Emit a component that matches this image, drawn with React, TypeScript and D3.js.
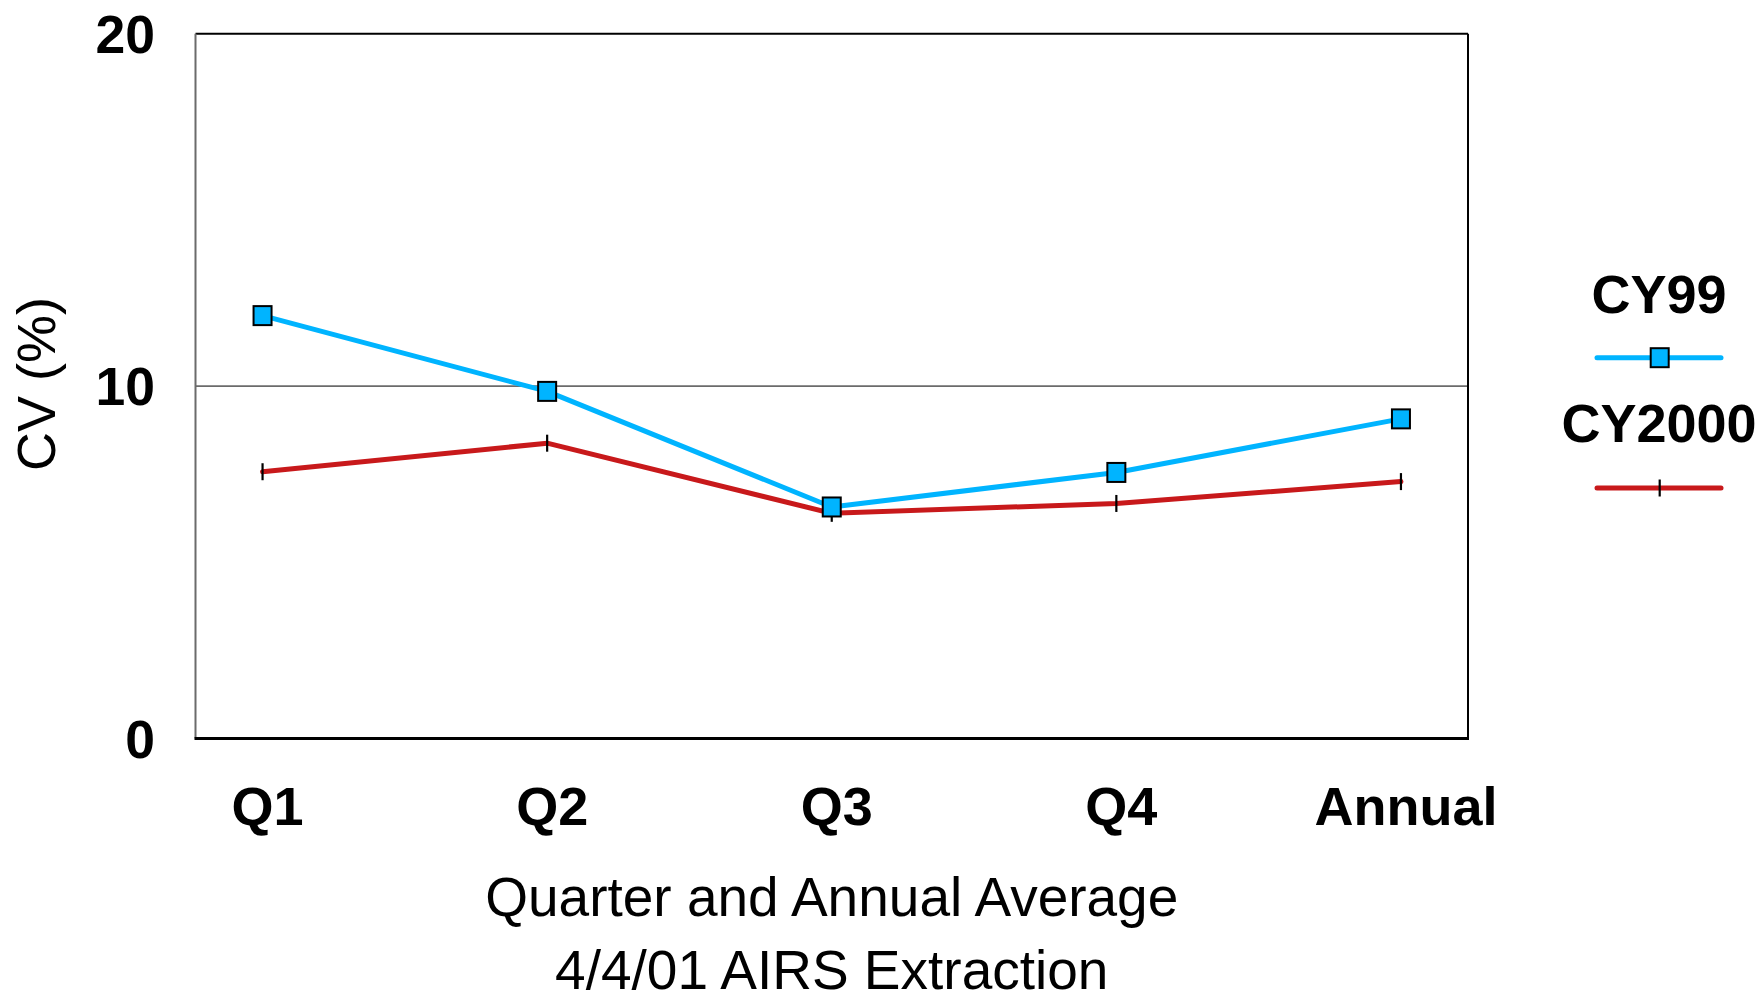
import React from "react";
import * as d3 from "d3";

const categories = ["Q1", "Q2", "Q3", "Q4", "Annual"];
const cy99 = [12.0, 9.85, 6.57, 7.55, 9.07];
const cy2000 = [7.57, 8.38, 6.39, 6.67, 7.29];
const yTicks = [0, 10, 20];
const seriesNames = ["CY99", "CY2000"];

const W = 1762;
const H = 1001;
const left = 195.5;
const right = 1468;
const top = 33.7;
const bottom = 738.5;
const FONT = "'Liberation Sans', Arial, sans-serif";
const BLUE = "#00B4FF";
const RED = "#C8191B";

export default function App() {
  const x = d3.scalePoint<string>().domain(categories).range([left, right]).padding(0.2356);
  const y = d3.scaleLinear().domain([0, 20]).range([bottom, top]);
  const line = d3
    .line<number>()
    .x((_, i) => x(categories[i]) as number)
    .y((d) => y(d));

  return (
    <svg width={W} height={H} style={{ position: "absolute", left: 0, top: 0, background: "#fff" }} fontFamily={FONT}>
      <rect x={0} y={0} width={W} height={H} fill="#fff" />
      {/* gridline at 10 */}
      {yTicks
        .filter((t) => t !== 0 && t !== 20)
        .map((t) => (
          <line key={t} x1={left} x2={right} y1={y(t)} y2={y(t)} stroke="#6b6b6b" strokeWidth={1.6} />
        ))}
      {/* frame */}
      <line x1={left} x2={right} y1={top} y2={top} stroke="#000" strokeWidth={2} />
      <line x1={right} x2={right} y1={top} y2={bottom} stroke="#000" strokeWidth={2} />
      <line x1={left} x2={left} y1={top} y2={bottom} stroke="#6b6b6b" strokeWidth={2} />
      <line x1={left - 1} x2={right + 1} y1={bottom} y2={bottom} stroke="#000" strokeWidth={3} />

      {/* y tick labels */}
      {yTicks.map((t) => (
        <text key={t} x={155} y={y(t)} dy="0.36em" textAnchor="end" fontSize={53.5} fontWeight="bold">
          {t}
        </text>
      ))}
      {/* x tick labels */}
      {categories.map((c) => (
        <text key={c} x={(x(c) as number) + 5} y={825} textAnchor="middle" fontSize={54} fontWeight="bold">
          {c}
        </text>
      ))}

      {/* axis titles */}
      <text
        transform={`translate(55, ${(top + bottom) / 2 - 2}) rotate(-90)`}
        textAnchor="middle"
        fontSize={54}
      >
        CV (%)
      </text>
      <text x={(left + right) / 2} y={916} textAnchor="middle" fontSize={55}>
        Quarter and Annual Average
      </text>
      <text x={(left + right) / 2} y={989} textAnchor="middle" fontSize={55}>
        4/4/01 AIRS Extraction
      </text>

      {/* series lines */}
      <path d={line(cy99) || ""} fill="none" stroke={BLUE} strokeWidth={5} strokeLinejoin="round" />
      <path d={line(cy2000) || ""} fill="none" stroke={RED} strokeWidth={5} strokeLinejoin="round" strokeLinecap="round" />
      {cy2000.map((v, i) => (
        <line
          key={"t" + i}
          x1={x(categories[i]) as number}
          x2={x(categories[i]) as number}
          y1={y(v) - 8.5}
          y2={y(v) + 8.5}
          stroke="#000"
          strokeWidth={2.2}
        />
      ))}
      {cy99.map((v, i) => (
        <rect
          key={"m" + i}
          x={(x(categories[i]) as number) - 9}
          y={y(v) - 9.5}
          width={18}
          height={19}
          fill={BLUE}
          stroke="#000"
          strokeWidth={2}
        />
      ))}

      {/* legend */}
      <text x={1659} y={312.7} textAnchor="middle" fontSize={54} fontWeight="bold">
        {seriesNames[0]}
      </text>
      <line x1={1597} x2={1721} y1={357.7} y2={357.7} stroke={BLUE} strokeWidth={5} strokeLinecap="round" />
      <rect x={1659.7 - 9} y={357.7 - 9.5} width={18} height={19} fill={BLUE} stroke="#000" strokeWidth={2} />
      <text x={1659} y={442} textAnchor="middle" fontSize={54} fontWeight="bold">
        {seriesNames[1]}
      </text>
      <line x1={1597} x2={1721} y1={488} y2={488} stroke={RED} strokeWidth={5} strokeLinecap="round" />
      <line x1={1659.7} x2={1659.7} y1={479.5} y2={496.5} stroke="#000" strokeWidth={2.2} />
    </svg>
  );
}
